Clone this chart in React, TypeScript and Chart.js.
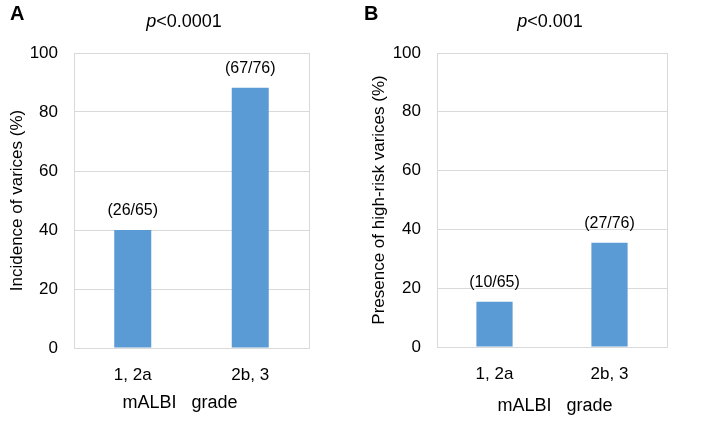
import React, { useEffect, useRef } from "react";
import { Chart, registerables } from "chart.js";

Chart.register(...registerables);

const categories = ["1, 2a", "2b, 3"];
const incidenceValues = [40.0, 88.2];
const incidenceLabels = ["(26/65)", "(67/76)"];
const highRiskValues = [15.4, 35.5];
const highRiskLabels = ["(10/65)", "(27/76)"];
const yTicks = [0, 20, 40, 60, 80, 100];

const FONT = "'Liberation Sans', Arial, sans-serif";
const BAR = "#5b9bd5";
const GRID = "#d9d9d9";

type PanelCfg = {
  letter: string;
  pRest: string;
  values: number[];
  labels: string[];
  yTitle: string;
  yWidth: number;
  xHeight: number;
  padRight: number;
  yTitlePad: number;
  pCx: number;
  xTitleCx: number;
  xTitleCy: number;
};

const panelA: PanelCfg = {
  letter: "A",
  pRest: "<0.0001",
  values: incidenceValues,
  labels: incidenceLabels,
  yTitle: "Incidence of varices (%)",
  yWidth: 74,
  xHeight: 75,
  padRight: 45,
  yTitlePad: 7,
  pCx: 184,
  xTitleCx: 180,
  xTitleCy: 403,
};

const panelB: PanelCfg = {
  letter: "B",
  pRest: "<0.001",
  values: highRiskValues,
  labels: highRiskLabels,
  yTitle: "Presence of high-risk varices (%)",
  yWidth: 83,
  xHeight: 76,
  padRight: 41,
  yTitlePad: 15,
  pCx: 196,
  xTitleCx: 201,
  xTitleCy: 406,
};

function Panel({ cfg, left }: { cfg: PanelCfg; left: number }) {
  const ref = useRef<HTMLCanvasElement | null>(null);
  useEffect(() => {
    if (!ref.current) return;
    const textPlugin = {
      id: "panelText",
      beforeDatasetsDraw(chart: any) {
        const { ctx, chartArea } = chart;
        ctx.save();
        ctx.strokeStyle = GRID;
        ctx.lineWidth = 1;
        ctx.strokeRect(
          Math.round(chartArea.left) + 0.5,
          Math.round(chartArea.top) + 0.5,
          Math.round(chartArea.right - chartArea.left),
          Math.round(chartArea.bottom - chartArea.top)
        );
        ctx.restore();
      },
      afterDraw(chart: any) {
        const { ctx } = chart;
        ctx.save();
        ctx.fillStyle = "#000";
        // panel letter
        ctx.font = `bold 20px ${FONT}`;
        ctx.textAlign = "left";
        ctx.textBaseline = "alphabetic";
        ctx.fillText(cfg.letter, 10, 20);
        // p-value title
        ctx.font = `italic 18px ${FONT}`;
        const wp = ctx.measureText("p").width;
        ctx.font = `18px ${FONT}`;
        const wr = ctx.measureText(cfg.pRest).width;
        const startX = cfg.pCx - (wp + wr) / 2;
        ctx.font = `italic 18px ${FONT}`;
        ctx.fillText("p", startX, 27);
        ctx.font = `18px ${FONT}`;
        ctx.fillText(cfg.pRest, startX + wp, 27);
        // x axis title
        ctx.font = `18px ${FONT}`;
        ctx.textAlign = "center";
        ctx.textBaseline = "middle";
        ctx.fillText("mALBI   grade", cfg.xTitleCx, cfg.xTitleCy);
        // data labels
        ctx.font = `16px ${FONT}`;
        const meta = chart.getDatasetMeta(0);
        meta.data.forEach((bar: any, i: number) => {
          ctx.fillText(cfg.labels[i], bar.x, bar.y - 19.5);
        });
        ctx.restore();
      },
    };
    const chart = new Chart(ref.current, {
      type: "bar",
      data: {
        labels: categories,
        datasets: [
          {
            data: cfg.values,
            backgroundColor: BAR,
            borderWidth: 0,
            categoryPercentage: 1,
            barPercentage: 0.315,
          },
        ],
      },
      options: {
        responsive: false,
        animation: false,
        layout: { padding: { top: 53, right: cfg.padRight, left: 0, bottom: 0 } },
        plugins: {
          legend: { display: false },
          tooltip: { enabled: false },
          title: { display: false },
        },
        scales: {
          x: {
            grid: { display: false },
            border: { display: false },
            ticks: { font: { family: FONT, size: 17 }, color: "#000", padding: 9 },
            afterFit: (s: any) => {
              s.height = cfg.xHeight;
            },
          },
          y: {
            min: 0,
            max: 100,
            afterBuildTicks: (s: any) => {
              s.ticks = yTicks.map((v) => ({ value: v }));
            },
            grid: { color: GRID, drawTicks: false },
            border: { display: false },
            ticks: { font: { family: FONT, size: 17 }, color: "#000", padding: 16 },
            title: {
              display: true,
              text: cfg.yTitle,
              color: "#000",
              font: { family: FONT, size: 17 },
              padding: { top: cfg.yTitlePad, bottom: 0 },
            },
            afterFit: (s: any) => {
              s.width = cfg.yWidth;
            },
          },
        },
      },
      plugins: [textPlugin],
    });
    return () => chart.destroy();
  }, [cfg]);
  return (
    <div style={{ position: "absolute", left, top: 0, width: 354, height: 423 }}>
      <canvas ref={ref} width={354} height={423} style={{ display: "block" }} />
    </div>
  );
}

export default function App() {
  return (
    <div
      style={{
        position: "absolute",
        left: 0,
        top: 0,
        width: 708,
        height: 423,
        background: "#fff",
        overflow: "hidden",
      }}
    >
      <Panel cfg={panelA} left={0} />
      <Panel cfg={panelB} left={354} />
    </div>
  );
}
